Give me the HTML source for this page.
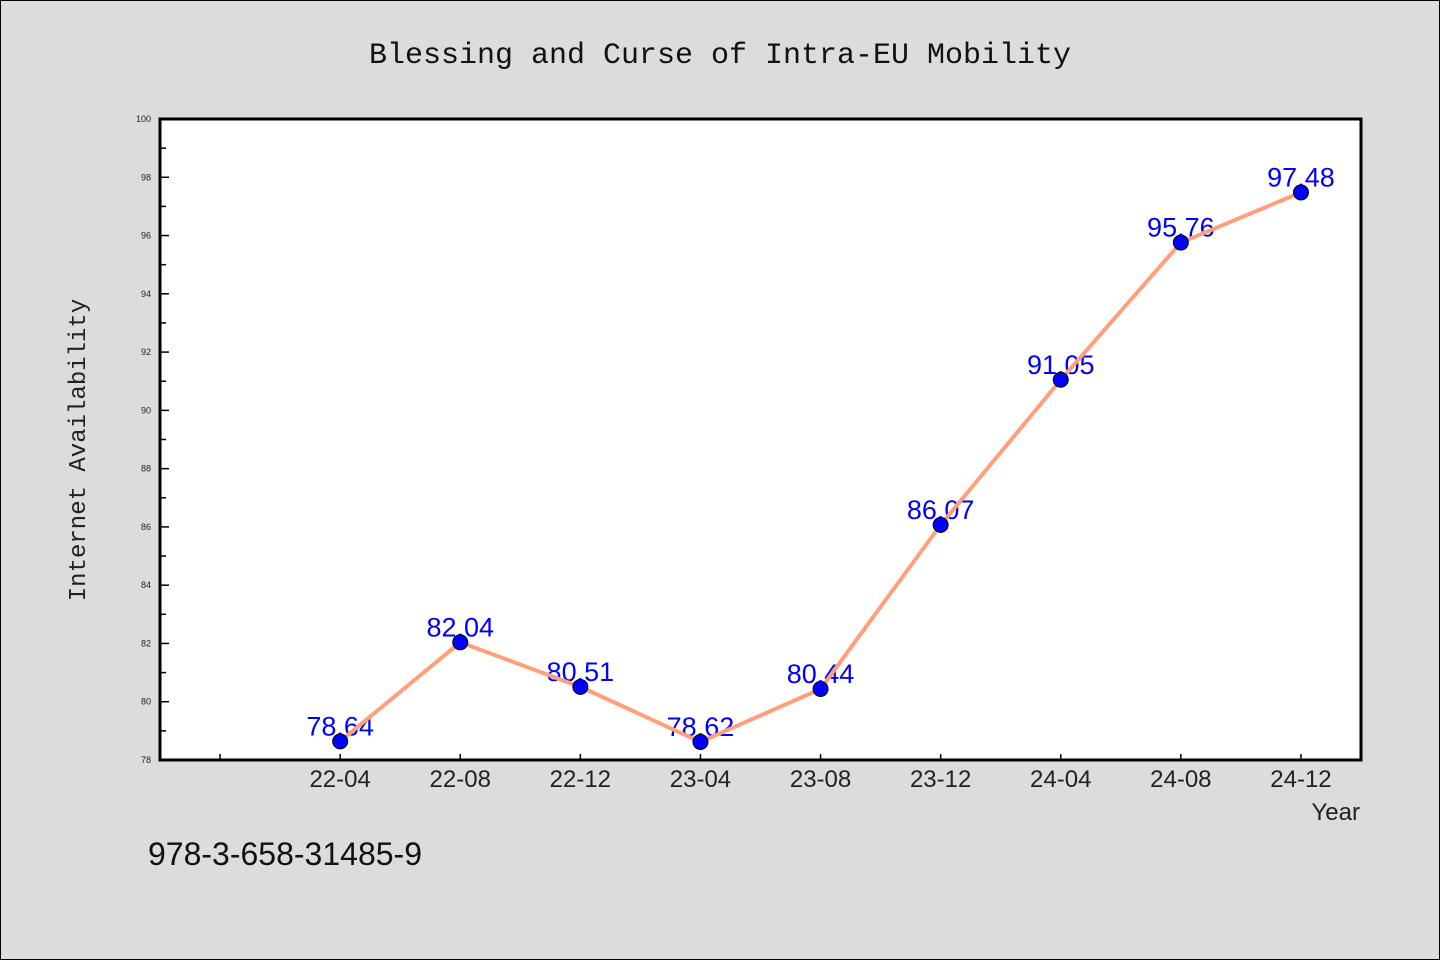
<!DOCTYPE html>
<html><head><meta charset="utf-8"><style>
body{margin:0;background:#dcdcdc;}
svg{display:block;}
text{font-family:"WenQuanYi Zen Hei","Liberation Sans",sans-serif;}
</style></head><body>
<svg id="c" width="1440" height="960" xmlns="http://www.w3.org/2000/svg">
<rect x="0.5" y="0.5" width="1439" height="959" fill="#dcdcdc" stroke="#000"/>
<text x="720" y="63" text-anchor="middle" font-size="30" style="font-family:'Liberation Mono',monospace" fill="#111">Blessing and Curse of Intra-EU Mobility</text>
<rect x="160" y="119" width="1201" height="641" fill="#fff" stroke="#000" stroke-width="3"/>
<text transform="translate(85,450) rotate(-90)" text-anchor="middle" font-size="24" style="font-family:'Liberation Mono',monospace" fill="#222">Internet Availability</text>
<text x="1360" y="820" text-anchor="end" font-size="24" fill="#222">Year</text>
<text x="148" y="865" font-size="32" fill="#111">978-3-658-31485-9</text>
<g id="g"></g>
</svg>
<script>
const categories=["22-04","22-08","22-12","23-04","23-08","23-12","24-04","24-08","24-12"];
const values=[78.64,82.04,80.51,78.62,80.44,86.07,91.05,95.76,97.48];
const yTicks=[78,80,82,84,86,88,90,92,94,96,98,100];
const NS="http://www.w3.org/2000/svg";
const g=document.getElementById('g');
const X0=160,X1=1361,Y0=760,Y1=119,ymin=78,ymax=100,imin=-1.5,imax=8.5;
const xs=i=>X0+(i-imin)/(imax-imin)*(X1-X0);
const ys=v=>Y0-(v-ymin)/(ymax-ymin)*(Y0-Y1);
function mk(t,a){const e=document.createElementNS(NS,t);for(const k in a)e.setAttribute(k,a[k]);g.appendChild(e);return e;}
for(let v=ymin;v<=ymax;v++){
 const t=mk('line',{x1:X0,x2:X0+(v%2?6:9),y1:ys(v),y2:ys(v),stroke:'#000','stroke-width':1.5});
 
 
}
yTicks.forEach(v=>{
 const t=mk('text',{x:X0-9,y:ys(v)+3,'text-anchor':'end','font-size':9,fill:'#222'});
 t.textContent=v;
 
 
});
for(let i=-1;i<categories.length;i++){
 const t=mk('line',{x1:xs(i),x2:xs(i),y1:Y0,y2:Y0-6,stroke:'#000','stroke-width':1.5});
 
 
}
categories.forEach((c,i)=>{
 const t=mk('text',{x:xs(i),y:Y0+27,'text-anchor':'middle','font-size':24,fill:'#222'});
 t.textContent=c;
 
 
});
values.forEach((v,i)=>{
 const t=mk('text',{x:xs(i),y:ys(v)-6,'text-anchor':'middle','font-size':27,fill:'#0000ff'});
 t.textContent=v.toFixed(2);
 
 
});
const pl=mk('polyline',{points:values.map((v,i)=>xs(i)+','+ys(v)).join(' '),fill:'none',stroke:'#ffa07a','stroke-width':4,'stroke-linejoin':'round'});


values.forEach((v,i)=>{
 const p=mk('circle',{cx:xs(i),cy:ys(v),r:7.5,fill:'#0000ff',stroke:'#000','stroke-width':1});
 
 
});
</script>
</body></html>
